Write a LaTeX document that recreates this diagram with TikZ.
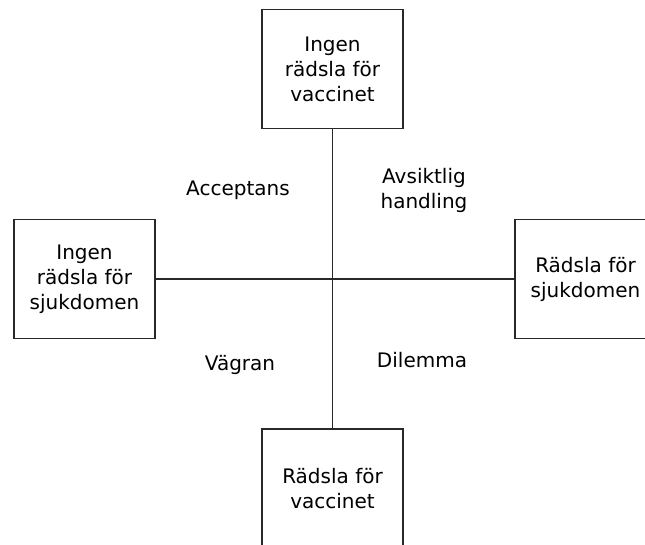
\documentclass[tikz,border=0pt]{standalone}
\usepackage{fontspec}
\setmainfont{DejaVu Sans}
\usetikzlibrary{positioning}
\definecolor{linegray}{RGB}{40,40,40}

\begin{document}
\begin{tikzpicture}[
    x=1pt, y=-1pt,
    box/.style={rectangle, draw=linegray, line width=1.2pt, minimum width=141pt, minimum height=119pt, align=center, inner sep=0pt, font=\fontsize{20}{25}\selectfont},
    quadlabel/.style={align=center, inner sep=0pt, font=\fontsize{20}{25}\selectfont},
    axis/.style={draw=linegray, line width=1.2pt}
]
\useasboundingbox (0,0) rectangle (645,544);
\clip (0,0) rectangle (645,544);

% Four boxes
\node[box] (vaccno) at (332.5,69) {Ingen\\rädsla för\\vaccinet};
\node[box] (sjukno) at (84.5,279) {Ingen\\rädsla för\\sjukdomen};
\node[box] (sjukyes) at (585.5,279) {Rädsla för\\sjukdomen};
\node[box] (vaccyes) at (332.5,488.5) {Rädsla för\\vaccinet};

% Axes
\draw[axis] (vaccno) -- (vaccyes);
\draw[axis] (sjukno) -- (sjukyes);

% Quadrant labels
\node[quadlabel, anchor=base] (accept) at (238,195) {Acceptans};
\node[quadlabel] (avsikt) at (424,190) {Avsiktlig\\handling};
\node[quadlabel, anchor=base] (vagran) at (240,370) {Vägran};
\node[quadlabel, anchor=base] (dilemma) at (422,367) {Dilemma};

\end{tikzpicture}
\end{document}
